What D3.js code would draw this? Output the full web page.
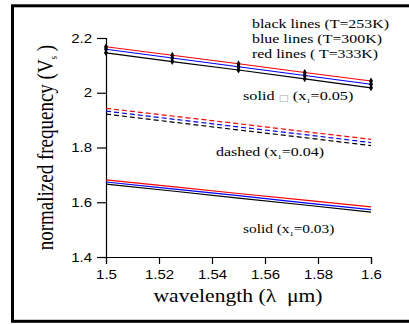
<!DOCTYPE html>
<html>
<head>
<meta charset="utf-8">
<script src="https://cdn.jsdelivr.net/npm/d3@7"></script>
<style>
  body { margin: 0; background: #fff; }
  svg { display: block; }
</style>
</head>
<body>
<div id="chart"></div>
<script>
// values
const wavelength = [1.5, 1.525, 1.55, 1.575, 1.6];

// solid, x1 = 0.05 (with markers)
const black05 = [2.146, 2.114, 2.083, 2.051, 2.018];
const blue05  = [2.159, 2.127, 2.095, 2.063, 2.031];
const red05   = [2.168, 2.137, 2.106, 2.074, 2.043];

// dashed, x1 = 0.04
const black04 = [1.922, 1.893, 1.864, 1.836, 1.807];
const blue04  = [1.933, 1.904, 1.875, 1.847, 1.818];
const red04   = [1.943, 1.915, 1.887, 1.858, 1.830];

// solid, x1 = 0.03
const black03 = [1.666, 1.641, 1.615, 1.590, 1.564];
const blue03  = [1.674, 1.649, 1.624, 1.598, 1.573];
const red03   = [1.682, 1.657, 1.632, 1.608, 1.583];

const xTicks = [1.5, 1.52, 1.54, 1.56, 1.58, 1.6];
const xMinor = [1.51, 1.53, 1.55, 1.57, 1.59];
const yTicks = [1.4, 1.6, 1.8, 2, 2.2];
const yMinor = [1.5, 1.7, 1.9, 2.1];

const W = 409, H = 324;
const sx = 1.2; // the figure is stretched sideways, text too

const svg = d3.select("#chart").append("svg")
    .attr("width", W)
    .attr("height", H);

svg.append("rect")
    .attr("width", W).attr("height", H)
    .attr("fill", "#fff");

// outer frame (right side runs off the picture)
svg.append("rect")
    .attr("x", 12.5).attr("y", 5.8)
    .attr("width", 410).attr("height", 315.5)
    .attr("fill", "none")
    .attr("stroke", "#000")
    .attr("stroke-width", 3);

const x = d3.scaleLinear().domain([1.5, 1.6]).range([106, 371]);
const y = d3.scaleLinear().domain([1.4, 2.2]).range([257, 38]);

// axes
const yAxisG = svg.append("g").attr("transform", "translate(106,0)");
yAxisG.call(d3.axisLeft(y).tickValues(yMinor).tickSize(5).tickFormat(""));
yAxisG.call(d3.axisLeft(y).tickValues(yTicks).tickSize(9).tickFormat(d3.format("")));

const xAxisG = svg.append("g").attr("transform", "translate(0,257)");
xAxisG.call(d3.axisBottom(x).tickValues(xMinor).tickSize(4).tickFormat(""));
xAxisG.call(d3.axisBottom(x).tickValues(xTicks).tickSize(7).tickPadding(6).tickFormat(d3.format("")));

svg.selectAll(".domain").attr("stroke", "#000").attr("stroke-width", 1.2);
svg.selectAll(".tick line").attr("stroke", "#000").attr("stroke-width", 1.2);
svg.selectAll(".tick text")
    .attr("font-family", "'Liberation Sans', Arial, sans-serif")
    .attr("font-size", 12.5)
    .attr("fill", "#000");
yAxisG.selectAll(".tick text")
    .attr("x", -14 / sx)
    .attr("transform", `scale(${sx},1)`);
xAxisG.selectAll(".tick text")
    .attr("transform", `scale(${sx},1)`);

// lines
const line = d3.line()
    .x((d, i) => x(wavelength[i]))
    .y(d => y(d));

const series = [
  { v: black05, c: "#000", dash: null, marks: true },
  { v: blue05,  c: "#0000ff", dash: null, marks: true },
  { v: red05,   c: "#ff0000", dash: null, marks: true },
  { v: black04, c: "#000", dash: "5,3" },
  { v: blue04,  c: "#0000ff", dash: "5,3" },
  { v: red04,   c: "#ff0000", dash: "5,3" },
  { v: black03, c: "#000", dash: null },
  { v: blue03,  c: "#0000ff", dash: null },
  { v: red03,   c: "#ff0000", dash: null }
];

series.forEach(s => {
  svg.append("path")
      .datum(s.v)
      .attr("d", line)
      .attr("fill", "none")
      .attr("stroke", s.c)
      .attr("stroke-width", 1.2)
      .attr("stroke-dasharray", s.dash);
});

const diamond = d3.symbol(d3.symbolDiamond, 14);
series.filter(s => s.marks).forEach(s => {
  svg.append("g").selectAll("path")
    .data(s.v)
    .join("path")
      .attr("d", diamond)
      .attr("transform", (d, i) => `translate(${x(wavelength[i])},${y(d)})`)
      .attr("fill", "#000");
});

// text helper: stretched serif text
function label(px, py, size) {
  return svg.append("text")
      .attr("transform", `translate(${px},${py}) scale(${sx},1)`)
      .attr("font-family", "'Liberation Serif', 'Times New Roman', serif")
      .attr("font-size", size)
      .attr("fill", "#000");
}

label(252, 28, 13).attr("textLength", 137 / sx).attr("lengthAdjust", "spacingAndGlyphs")
    .text("black lines (T=253K)");
label(252, 43, 13).attr("textLength", 130 / sx).attr("lengthAdjust", "spacingAndGlyphs")
    .text("blue lines (T=300K)");
label(252, 58, 13).attr("textLength", 126 / sx).attr("lengthAdjust", "spacingAndGlyphs")
    .text("red lines ( T=333K)");

function xLabel(t, pre, sub, post) {
  t.append("tspan").text(pre);
  t.append("tspan").attr("font-size", 7).attr("dy", 3).text(sub);
  t.append("tspan").attr("dy", -3).text(post);
}

const s05 = label(243, 100, 13.5);
s05.append("tspan").text("solid ");
s05.append("tspan").attr("font-family", "'DejaVu Sans', sans-serif")
    .attr("font-size", 9).attr("fill", "#aaa").attr("dy", 1).text("\u25A1");
s05.append("tspan").attr("dy", -1).text(" ");
xLabel(s05, "(x", "1", "=0.05)");

xLabel(label(216, 156, 13.3), "dashed (x", "1", "=0.04)");
xLabel(label(243, 233, 12.8), "solid (x", "1", "=0.03)");

// axis titles
svg.append("text")
    .attr("transform", `translate(238,302) scale(${sx},1)`)
    .attr("text-anchor", "middle")
    .attr("font-family", "'Liberation Serif', 'Times New Roman', serif")
    .attr("font-size", 18)
    .text("wavelength (\u03BB\u00A0 \u03BCm)");

const yt = svg.append("text")
    .attr("transform", `translate(53,147.5) scale(${sx},1) rotate(-90)`)
    .attr("text-anchor", "middle")
    .attr("font-family", "'Liberation Serif', 'Times New Roman', serif")
    .attr("font-size", 19);
yt.append("tspan").text("normalized frequency (V");
yt.append("tspan").attr("font-size", 9).attr("dy", 3).text("s");
yt.append("tspan").attr("dy", -3).text("\u00A0)");
</script>
</body>
</html>
